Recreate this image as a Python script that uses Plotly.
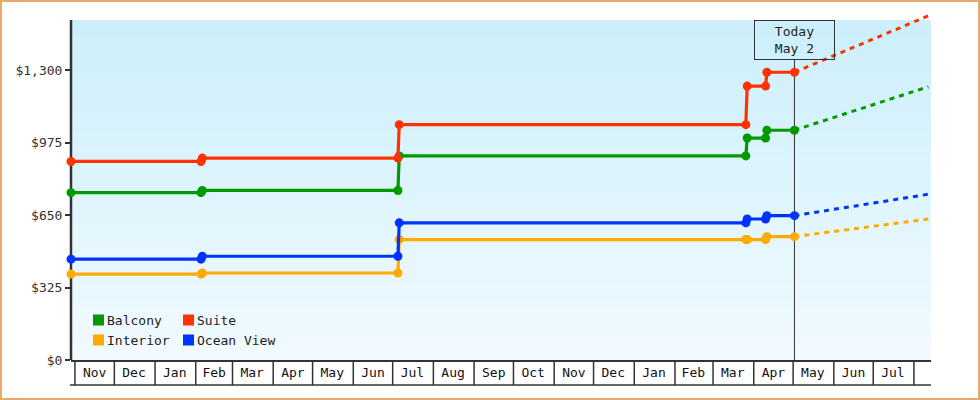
import plotly.graph_objects as go

# price history (step changes happen over one day)
dates = ["2022-10-29", "2023-02-05", "2023-02-06", "2023-07-05", "2023-07-06",
         "2024-03-26", "2024-03-27", "2024-04-10", "2024-04-11", "2024-05-02"]
balcony = [750, 750, 760, 760, 915, 915, 995, 995, 1030, 1030]
suite = [890, 890, 905, 905, 1055, 1055, 1228, 1228, 1290, 1290]
interior = [385, 385, 390, 390, 540, 540, 540, 540, 553, 553]
ocean_view = [452, 452, 465, 465, 615, 615, 632, 632, 647, 647]

# projection from today to the end of the window
proj_dates = ["2024-05-02", "2024-08-12"]
balcony_proj = [1030, 1225]
suite_proj = [1290, 1543]
interior_proj = [553, 632]
ocean_view_proj = [647, 743]

today = "2024-05-02"
today_label = "Today<br>May 2"

month_starts = ["2022-11-01", "2022-12-01", "2023-01-01", "2023-02-01", "2023-03-01",
                "2023-04-01", "2023-05-01", "2023-06-01", "2023-07-01", "2023-08-01",
                "2023-09-01", "2023-10-01", "2023-11-01", "2023-12-01", "2024-01-01",
                "2024-02-01", "2024-03-01", "2024-04-01", "2024-05-01", "2024-06-01",
                "2024-07-01", "2024-08-01"]
month_mids = ["2022-11-16", "2022-12-16", "2023-01-16", "2023-02-15", "2023-03-16",
              "2023-04-16", "2023-05-16", "2023-06-16", "2023-07-16", "2023-08-16",
              "2023-09-16", "2023-10-16", "2023-11-16", "2023-12-16", "2024-01-16",
              "2024-02-15", "2024-03-16", "2024-04-16", "2024-05-16", "2024-06-16",
              "2024-07-16"]
month_labels = ["Nov", "Dec", "Jan", "Feb", "Mar", "Apr", "May", "Jun", "Jul", "Aug",
                "Sep", "Oct", "Nov", "Dec", "Jan", "Feb", "Mar", "Apr", "May", "Jun", "Jul"]

y_ticks = [0, 325, 650, 975, 1300]
y_tick_text = ["$0", "$325", "$650", "$975", "$1,300"]

series = [("Balcony", balcony, balcony_proj, "#009900"),
          ("Suite", suite, suite_proj, "#ff3300"),
          ("Interior", interior, interior_proj, "#ffaa00"),
          ("Ocean View", ocean_view, ocean_view_proj, "#0033ff")]

FONT = "DejaVu Sans Mono"
W, H = 980, 400
L, R, T, B = 71, 49, 12, 40
PW, PH = W - L - R, H - T - B
Y_TOP = 1524   # top of the shaded area
Y_MAX = 1560


def px_x(px):
    return (px - L) / PW


def px_y(py):
    return (H - B - py) / PH


fig = go.Figure()

for name, vals, proj, color in series:
    fig.add_trace(go.Scatter(x=proj_dates, y=proj, mode="lines", showlegend=False,
                             line=dict(color=color, width=3, dash="5px,5px"), hoverinfo="skip"))
for name, vals, proj, color in series:
    fig.add_trace(go.Scatter(x=dates, y=vals, mode="lines+markers", name=name, showlegend=False,
                             line=dict(color=color, width=3.2), cliponaxis=False,
                             marker=dict(color=color, size=9, symbol="circle")))

shapes = []
# background gradient (bands overlap a little so no seams show)
top_c = (204, 239, 251)
bot_c = (241, 250, 255)
n = 40
step = Y_TOP / n
for i in range(n):
    t = i / (n - 1)
    c = tuple(int(round(bot_c[k] + (top_c[k] - bot_c[k]) * t)) for k in range(3))
    shapes.append(dict(type="rect", xref="paper", yref="y", x0=0, x1=1,
                       y0=step * i, y1=min(step * (i + 1) + step * 0.6, Y_TOP),
                       fillcolor="rgb(%d,%d,%d)" % c, line_width=0, layer="below"))

# left axis line
shapes.append(dict(type="line", xref="paper", yref="y", x0=0, x1=0, y0=0, y1=Y_TOP,
                   line=dict(color="#333333", width=2.5), layer="below"))
# month boxes under the axis
box_bottom = px_y(385)
shapes.append(dict(type="line", xref="paper", yref="paper", x0=px_x(70), x1=1,
                   y0=box_bottom, y1=box_bottom, line=dict(color="#333333", width=1.5)))
for d in month_starts:
    shapes.append(dict(type="line", xref="x", yref="paper", x0=d, x1=d, y0=box_bottom, y1=0,
                       line=dict(color="#333333", width=1.5)))

# today line
shapes.append(dict(type="line", xref="x", yref="y", x0=today, x1=today, y0=0, y1=1345,
                   line=dict(color="#333333", width=1), layer="below"))

# legend swatches
annotations = []
legend_pos = [("Balcony", "#009900", 93, 320), ("Suite", "#ff3300", 183, 320),
              ("Interior", "#ffaa00", 93, 340), ("Ocean View", "#0033ff", 183, 340)]
for name, color, lx, ly in legend_pos:
    shapes.append(dict(type="rect", xref="paper", yref="paper",
                       x0=px_x(lx), x1=px_x(lx + 11), y0=px_y(ly + 5.5), y1=px_y(ly - 5.5),
                       fillcolor=color, line_width=0))
    annotations.append(dict(xref="paper", yref="paper", x=px_x(lx + 12), y=px_y(ly),
                            xanchor="left", yanchor="middle", text=name, showarrow=False,
                            font=dict(family=FONT, size=13, color="#222222")))

# outer frame
shapes.append(dict(type="rect", xref="paper", yref="paper",
                   x0=px_x(1), x1=px_x(979), y0=px_y(399), y1=px_y(1),
                   line=dict(color="#e8aa6a", width=2)))

annotations.append(dict(x=today, y=Y_TOP, xref="x", yref="y", yanchor="top",
                        text=today_label, showarrow=False, align="center",
                        width=79, height=38, borderpad=0, borderwidth=1, bordercolor="#333333",
                        font=dict(family=FONT, size=13, color="#222222")))

fig.update_layout(
    width=W, height=H,
    margin=dict(l=L, r=R, t=T, b=B),
    paper_bgcolor="white", plot_bgcolor="white",
    font=dict(family=FONT, size=13, color="#222222"),
    shapes=shapes, annotations=annotations,
    hovermode=False,
)
fig.update_xaxes(range=["2022-10-29", "2024-08-14"], tickvals=month_mids, ticktext=month_labels,
                 ticks="", showgrid=False, zeroline=False, showline=True,
                 linecolor="#333333", linewidth=1.5, tickfont=dict(family=FONT, size=13, color="#111111"))
fig.update_yaxes(range=[0, Y_MAX], tickvals=y_ticks, ticktext=y_tick_text,
                 ticks="outside", ticklen=5, tickwidth=2, tickcolor="#333333",
                 showgrid=False, zeroline=False, showline=False,
                 tickfont=dict(family=FONT, size=13, color="#333333"))

# page body has a default margin, drop it so the chart sits at the corner
fig.write_html("out.html", config={"displayModeBar": False},
               post_script="document.body.style.margin='0';")
